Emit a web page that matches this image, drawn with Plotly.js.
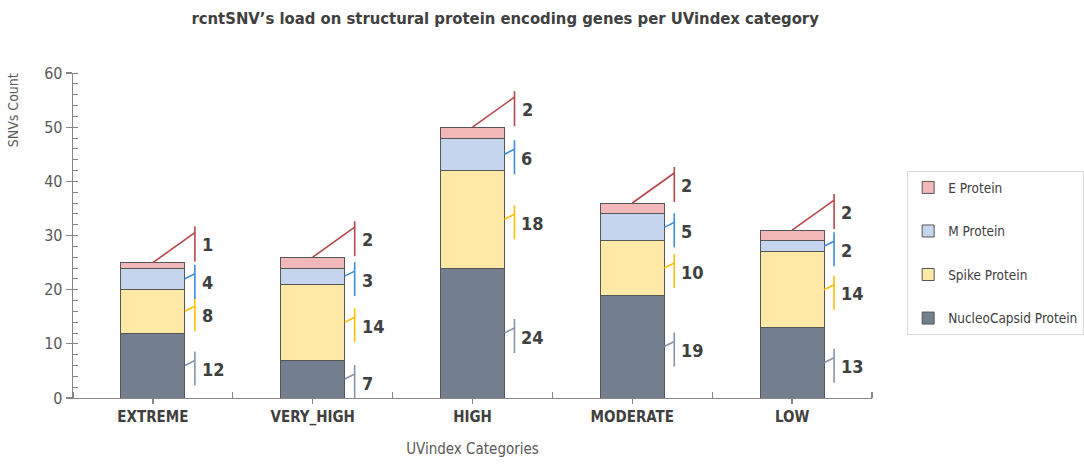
<!DOCTYPE html>
<html>
<head>
<meta charset="utf-8">
<script src="https://cdn.plot.ly/plotly-3.0.1.min.js"></script>
<style>html,body{margin:0;padding:0;background:#fff}#chart{width:1084px;height:474px}</style>
</head>
<body>
<div id="chart"></div>
<script>
const categories = ["EXTREME", "VERY_HIGH", "HIGH", "MODERATE", "LOW"];
const nucleoCapsid = [12, 7, 24, 19, 13];
const spike = [8, 14, 18, 10, 14];
const mProtein = [4, 3, 6, 5, 2];
const eProtein = [1, 2, 2, 2, 2];
const yTicks = [0, 10, 20, 30, 40, 50, 60];

const FONT = "'DejaVu Sans Condensed', 'Liberation Sans Narrow', sans-serif";
const BARW = 0.4;

const series = [
  {name: "NucleoCapsid Protein", values: nucleoCapsid, fill: "#737F8E", lead: "#8893A8"},
  {name: "Spike Protein", values: spike, fill: "#FDE8A5", lead: "#FFC000"},
  {name: "M Protein", values: mProtein, fill: "#C5D5EE", lead: "#3C8DD9"},
  {name: "E Protein", values: eProtein, fill: "#F2B8B9", lead: "#B5474A"}
];
const xs = categories.map((c, i) => i);

const traces = series.map((s, si) => ({
  type: "bar", name: s.name, x: xs, y: s.values, width: BARW,
  legendgroup: s.name, legendrank: (series.length - si) * 100,
  marker: {color: s.fill, line: {color: "#555555", width: 1}},
  hoverinfo: "y+name"
}));

const shapes = [], annotations = [];
const cum = categories.map(() => 0);
series.forEach((s, si) => {
  s.values.forEach((v, i) => {
    const base = cum[i];
    const top = base + v;
    cum[i] = top;
    const common = {type: "line", xref: "x", yref: "y", xsizemode: "pixel", ysizemode: "pixel",
                    line: {color: s.lead, width: 1.6}};
    if (si < series.length - 1) {
      const yc = (base + top) / 2;
      const ax = i + BARW / 2;
      shapes.push(Object.assign({}, common, {xanchor: ax, yanchor: yc, x0: 0, y0: 0, x1: 10, y1: 5}));
      shapes.push(Object.assign({}, common, {xanchor: ax, yanchor: yc, x0: 10, y0: 14, x1: 10, y1: -20}));
      annotations.push({x: ax, y: yc, xref: "x", yref: "y", text: String(v), showarrow: false,
        xanchor: "left", yanchor: "middle", xshift: 15, yshift: -4,
        font: {family: FONT, size: 18, color: "#404040", weight: "bold"}});
    } else {
      const ax = i;
      shapes.push(Object.assign({}, common, {xanchor: ax, yanchor: top, x0: 0, y0: 0, x1: 42, y1: 30}));
      shapes.push(Object.assign({}, common, {xanchor: ax, yanchor: top, x0: 42, y0: 36, x1: 42, y1: 1}));
      annotations.push({x: ax, y: top, xref: "x", yref: "y", text: String(v), showarrow: false,
        xanchor: "left", yanchor: "middle", xshift: 47, yshift: 18,
        font: {family: FONT, size: 18, color: "#404040", weight: "bold"}});
    }
  });
});

annotations.push({xref: "paper", yref: "paper", x: -0.074, y: 0.885, text: "SNVs Count", textangle: -90,
  showarrow: false, xanchor: "center", yanchor: "middle",
  font: {family: FONT, size: 14, color: "#595959"}});

const layout = {
  width: 1084, height: 474,
  margin: {l: 73, r: 212, t: 73, b: 76, autoexpand: false},
  paper_bgcolor: "#ffffff", plot_bgcolor: "#ffffff",
  barmode: "stack",
  showlegend: true,
  font: {family: FONT, color: "#404040"},
  title: {text: "rcntSNV\u2019s load on structural protein encoding genes per UVindex category",
    x: 0.466, xanchor: "center", y: 0.962, yanchor: "middle",
    font: {family: FONT, size: 16.5, color: "#404040", weight: "bold"}},
  xaxis: {
    range: [-0.5, 4.5], tickmode: "array", tickvals: xs, ticktext: categories,
    showgrid: false, zeroline: false, showline: true, linecolor: "#868686", linewidth: 1.3,
    ticks: "outside", ticklen: 5, tickcolor: "#868686", tickwidth: 1.3,
    tickfont: {family: FONT, size: 15, color: "#404040", weight: "bold"},
    minor: {tickmode: "array", tickvals: [-0.5, 0.5, 1.5, 2.5, 3.5, 4.5], ticks: "inside", ticklen: 6,
            tickcolor: "#868686", tickwidth: 1.3, showgrid: false},
    title: {text: "UVindex Categories", standoff: 18, font: {family: FONT, size: 15, color: "#595959"}},
    fixedrange: true
  },
  yaxis: {
    range: [0, 60], tickmode: "array", tickvals: yTicks,
    showgrid: false, zeroline: false, showline: true, linecolor: "#868686", linewidth: 1.3,
    ticks: "outside", ticklen: 6, tickcolor: "#868686", tickwidth: 1.3,
    tickfont: {family: FONT, size: 16, color: "#595959"},
    minor: {dtick: 2, ticks: "inside", ticklen: 5, tickcolor: "#868686", tickwidth: 1, showgrid: false},
    fixedrange: true
  },
  legend: {
    x: 1.044, xanchor: "left", y: 0.698, yanchor: "top",
    traceorder: "grouped", tracegroupgap: 23,
    bordercolor: "#d9d9d9", borderwidth: 1, bgcolor: "#ffffff",
    itemwidth: 30,
    font: {family: FONT, size: 13.5, color: "#404040"}
  },
  shapes: shapes,
  annotations: annotations
};

Plotly.newPlot("chart", traces, layout, {displayModeBar: false, staticPlot: true});
</script>
</body>
</html>
